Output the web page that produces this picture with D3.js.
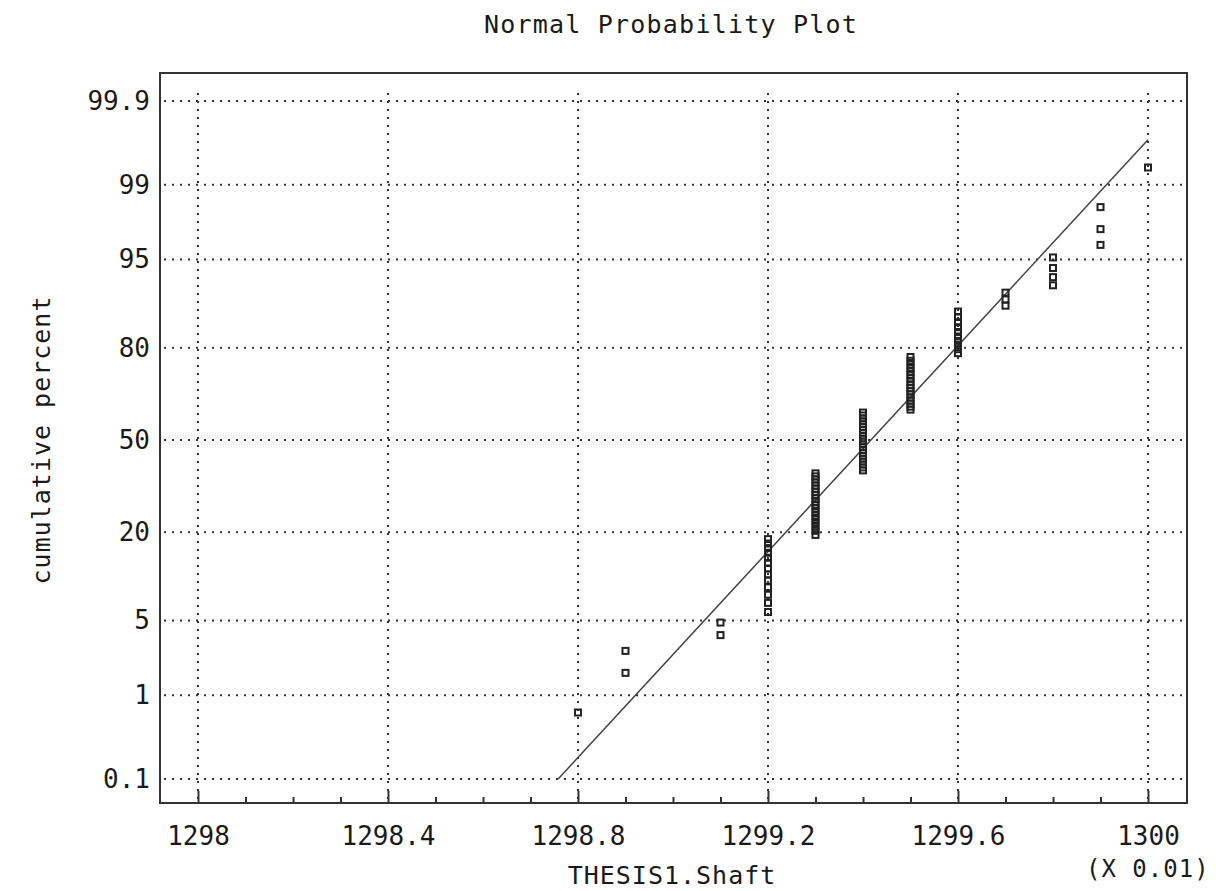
<!DOCTYPE html>
<html>
<head>
<meta charset="utf-8">
<script src="https://cdn.jsdelivr.net/npm/d3@7"></script>
<style>
  body { margin: 0; background: #fff; }
  text { font-family: "DejaVu Sans Mono", "Liberation Mono", monospace; fill: #1a1a1a; }
</style>
</head>
<body>
<div class="chart"></div>
<script>
// shaft measurements (x 0.01) and how many times each one occurs
var shaftValues = [1298.8, 1298.9, 1299.1, 1299.2, 1299.3, 1299.4, 1299.5, 1299.6, 1299.7, 1299.8, 1299.9, 1300];
var shaftCounts = [1, 2, 2, 13, 19, 21, 17, 10, 3, 4, 3, 1];

var xMajor = [1298, 1298.4, 1298.8, 1299.2, 1299.6, 1300];
var xMinor = [1298.1, 1298.2, 1298.3, 1298.5, 1298.6, 1298.7, 1298.9, 1299, 1299.1,
              1299.3, 1299.4, 1299.5, 1299.7, 1299.8, 1299.9];
var yTicks = [0.1, 1, 5, 20, 50, 80, 95, 99, 99.9];

var w = 1216;
var h = 891;
var pLeft = 160, pRight = 1187, pTop = 73, pBottom = 803;

// inverse normal cdf (Acklam)
function probit(p) {
  var a = [-3.969683028665376e+01, 2.209460984245205e+02, -2.759285104469687e+02,
           1.383577518672690e+02, -3.066479806614716e+01, 2.506628277459239e+00];
  var b = [-5.447609879822406e+01, 1.615858368580409e+02, -1.556989798598866e+02,
           6.680131188771972e+01, -1.328068155288572e+01];
  var c = [-7.784894002430293e-03, -3.223964580411365e-01, -2.400758277161838e+00,
           -2.549732539343734e+00, 4.374664141464968e+00, 2.938163982698783e+00];
  var d = [7.784695709041462e-03, 3.224671290700398e-01, 2.445134137142996e+00,
           3.754408661907416e+00];
  var q, r;
  if (p < 0.02425) {
    q = Math.sqrt(-2 * Math.log(p));
    return (((((c[0]*q+c[1])*q+c[2])*q+c[3])*q+c[4])*q+c[5]) / ((((d[0]*q+d[1])*q+d[2])*q+d[3])*q+1);
  }
  if (p > 1 - 0.02425) {
    q = Math.sqrt(-2 * Math.log(1 - p));
    return -(((((c[0]*q+c[1])*q+c[2])*q+c[3])*q+c[4])*q+c[5]) / ((((d[0]*q+d[1])*q+d[2])*q+d[3])*q+1);
  }
  q = p - 0.5; r = q * q;
  return (((((a[0]*r+a[1])*r+a[2])*r+a[3])*r+a[4])*r+a[5])*q / (((((b[0]*r+b[1])*r+b[2])*r+b[3])*r+b[4])*r+1);
}

// expand to sorted observations, Blom plotting positions
var obs = [];
shaftValues.forEach(function(v, i) {
  for (var k = 0; k < shaftCounts[i]; k++) obs.push(v);
});
var n = obs.length;
var points = obs.map(function(v, i) {
  return { x: v, z: probit((i + 1 - 0.375) / (n + 0.25)) };
});
var mean = d3.mean(obs), sd = d3.deviation(obs);

var x = d3.scaleLinear().domain([1298, 1300]).range([198, 1148]);
var y = d3.scaleLinear().domain([probit(0.001), probit(0.999)]).range([779, 101]);

var svg = d3.select(".chart")
            .append("svg")
            .attr("width", w)
            .attr("height", h);

svg.append("text")
   .attr("x", 671).attr("y", 33)
   .attr("text-anchor", "middle")
   .attr("font-size", "25px")
   .attr("letter-spacing", "1.2px")
   .text("Normal Probability Plot");

// dotted grid
svg.selectAll(".vgrid")
   .data(xMajor)
   .enter()
   .append("line")
   .attr("class", "vgrid")
   .attr("x1", function(d) { return x(d); })
   .attr("x2", function(d) { return x(d); })
   .attr("y1", pTop + 20).attr("y2", pBottom)
   .attr("stroke", "#333")
   .attr("stroke-width", 2)
   .attr("stroke-dasharray", "2,6");

svg.selectAll(".hgrid")
   .data(yTicks)
   .enter()
   .append("line")
   .attr("class", "hgrid")
   .attr("x1", pLeft + 4).attr("x2", pRight)
   .attr("y1", function(d) { return y(probit(d / 100)); })
   .attr("y2", function(d) { return y(probit(d / 100)); })
   .attr("stroke", "#333")
   .attr("stroke-width", 2)
   .attr("stroke-dasharray", "2,6");

// frame
svg.append("rect")
   .attr("x", pLeft).attr("y", pTop)
   .attr("width", pRight - pLeft).attr("height", pBottom - pTop)
   .attr("fill", "none")
   .attr("stroke", "#333")
   .attr("stroke-width", 2);

// x axis, ticks pointing inward
var xAxis = svg.append("g")
   .attr("transform", "translate(0," + pBottom + ")")
   .call(d3.axisBottom(x).tickValues(xMajor).tickSize(-12).tickPadding(24)
           .tickFormat(function(d) { return String(+d.toFixed(1)); }));
xAxis.select(".domain").remove();
xAxis.selectAll("line").attr("stroke", "#333").attr("stroke-width", 2);
xAxis.selectAll("text").attr("font-size", "26px").attr("font-family", null).attr("fill", "#1a1a1a");

var xMinorAxis = svg.append("g")
   .attr("transform", "translate(0," + pBottom + ")")
   .call(d3.axisBottom(x).tickValues(xMinor).tickSize(-6).tickFormat(""));
xMinorAxis.select(".domain").remove();
xMinorAxis.selectAll("line").attr("stroke", "#333").attr("stroke-width", 2);

// y axis labels
var yAxis = svg.append("g")
   .attr("transform", "translate(" + pLeft + ",0)")
   .call(d3.axisLeft(y).tickValues(yTicks.map(function(d) { return probit(d / 100); }))
           .tickSize(0).tickPadding(10)
           .tickFormat(function(d, i) { return String(yTicks[i]); }));
yAxis.select(".domain").remove();
yAxis.selectAll("text").attr("font-size", "26px").attr("font-family", null).attr("fill", "#1a1a1a");

svg.append("text")
   .attr("x", 672).attr("y", 884)
   .attr("text-anchor", "middle")
   .attr("font-size", "25px")
   .attr("letter-spacing", "1px")
   .text("THESIS1.Shaft");

svg.append("text")
   .attr("x", 1086).attr("y", 877)
   .attr("font-size", "24px")
   .attr("letter-spacing", "1px")
   .text("(X 0.01)");

svg.append("text")
   .attr("transform", "translate(50,440) rotate(-90)")
   .attr("text-anchor", "middle")
   .attr("font-size", "25px")
   .attr("letter-spacing", "1px")
   .text("cumulative percent");

// fitted normal line
var z0 = probit(0.001);
var fit = [{ x: mean + z0 * sd, z: z0 }, { x: d3.max(obs), z: (d3.max(obs) - mean) / sd }];
svg.append("path")
   .datum(fit)
   .attr("d", d3.line().x(function(d) { return x(d.x); }).y(function(d) { return y(d.z); }))
   .attr("fill", "none")
   .attr("stroke", "#444")
   .attr("stroke-width", 1.5);

svg.selectAll(".pt")
   .data(points)
   .enter()
   .append("rect")
   .attr("class", "pt")
   .attr("x", function(d) { return x(d.x) - 3; })
   .attr("y", function(d) { return y(d.z) - 3; })
   .attr("width", 6).attr("height", 6)
   .attr("fill", "none")
   .attr("stroke", "#222")
   .attr("stroke-width", 2);
</script>
</body>
</html>
